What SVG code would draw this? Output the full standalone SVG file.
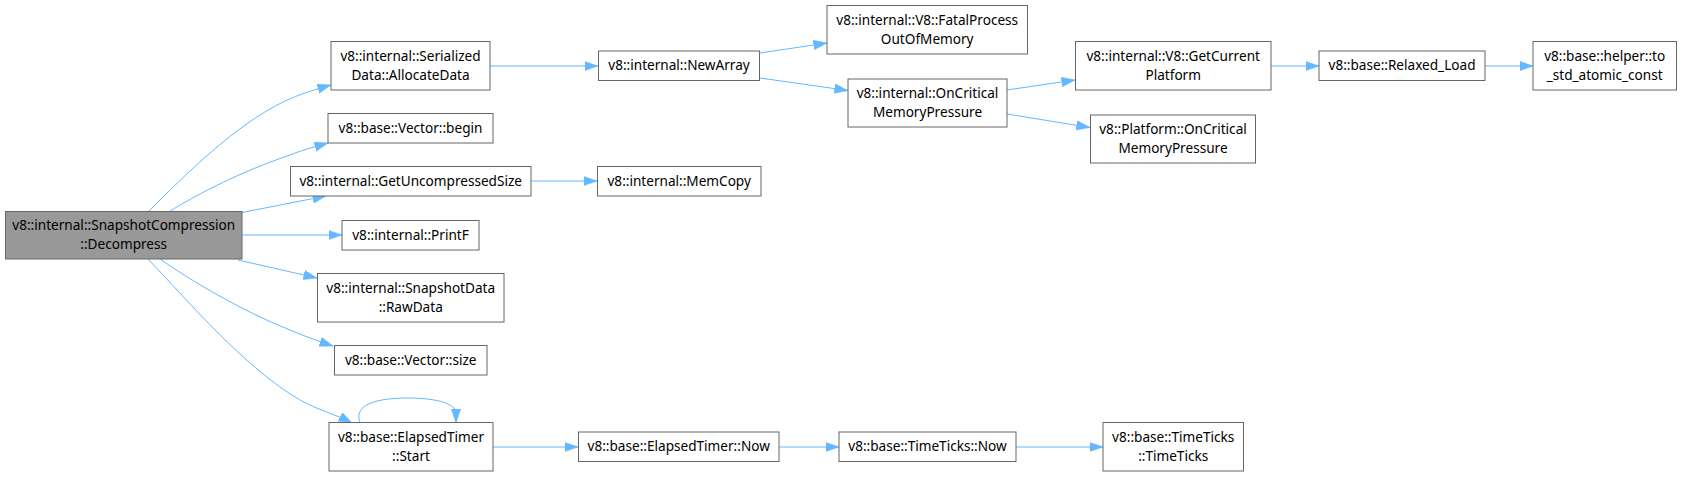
<svg xmlns="http://www.w3.org/2000/svg" width="1682" height="477" viewBox="0 0 1682 477">
<defs>
<style>
.n rect{fill:#ffffff;stroke:#666666;stroke-width:1}
.n.main rect{fill:#999999}
.n text{font-family:"Noto Sans","Open Sans","DejaVu Sans",sans-serif;font-size:13.6px;fill:#000000;text-anchor:middle}
.e path{fill:none;stroke:#63b8ff;stroke-width:1;marker-end:url(#arr)}
</style>
<marker id="arr" markerWidth="15" markerHeight="11" refX="13.5" refY="4.75" orient="auto" markerUnits="userSpaceOnUse">
<path d="M0,0 L13.5,4.75 L0,9.5 z" fill="#63b8ff" stroke="#63b8ff" stroke-width="0.5"/>
</marker>
</defs>
<rect width="1682" height="477" fill="#ffffff"/>
<g id="connectors" class="e">
<path d="M149,211 C185,175 235,125 285,101 C296,96 306,92 331,85"/>
<path d="M170,211 C200,193 240,172 290,155 C300,151 310,148 328,143"/>
<path d="M242,212.5 L326,196"/>
<path d="M242,235 L342,235"/>
<path d="M238,260 L317,278"/>
<path d="M160,259 C190,280 240,310 290,330 C302,335 315,340 333,346"/>
<path d="M148,259 C190,303 245,368 300,400 C318,410 335,414 352,423"/>
<path d="M360,422.5 C353,404 378,398 408,398 C432,398 452,402 456,411 L456,422.5"/>
<path d="M490,66 L598,66"/>
<path d="M760,53 L827,43"/>
<path d="M760,78 L848,90.5"/>
<path d="M1007,90 L1075,80"/>
<path d="M1007,114 L1090,127.5"/>
<path d="M1271,66 L1319,66"/>
<path d="M1485,66 L1533,66"/>
<path d="M531,181 L597,181"/>
<path d="M493,447 L578,447"/>
<path d="M779,447 L839,447"/>
<path d="M1016,447 L1103,447"/>
</g>
<g id="n_main" class="n main"><rect x="5.5" y="211.5" width="236.5" height="47.5"/><text x="123.7" y="230">v8::internal::SnapshotCompression</text><text x="123.7" y="249">::Decompress</text></g>
<g id="n_serialized" class="n"><rect x="331" y="41.5" width="159" height="48.5"/><text x="410.5" y="60.5">v8::internal::Serialized</text><text x="410.5" y="79.5">Data::AllocateData</text></g>
<g id="n_begin" class="n"><rect x="328" y="113.5" width="165" height="29.5"/><text x="410.5" y="132.5">v8::base::Vector::begin</text></g>
<g id="n_getuncomp" class="n"><rect x="290.5" y="166.5" width="240.5" height="29.5"/><text x="410.7" y="185.5">v8::internal::GetUncompressedSize</text></g>
<g id="n_printf" class="n"><rect x="342" y="220.5" width="137" height="29.5"/><text x="410.5" y="239.5">v8::internal::PrintF</text></g>
<g id="n_rawdata" class="n"><rect x="317.5" y="273.5" width="186.5" height="48.5"/><text x="410.7" y="292.5">v8::internal::SnapshotData</text><text x="410.7" y="311.5">::RawData</text></g>
<g id="n_vsize" class="n"><rect x="334.5" y="345.5" width="152.5" height="29.5"/><text x="410.7" y="364.5">v8::base::Vector::size</text></g>
<g id="n_start" class="n"><rect x="329" y="422.5" width="164" height="48.5"/><text x="411" y="441.5">v8::base::ElapsedTimer</text><text x="411" y="460.5">::Start</text></g>
<g id="n_newarray" class="n"><rect x="598.5" y="51" width="161" height="29.5"/><text x="679" y="70">v8::internal::NewArray</text></g>
<g id="n_memcopy" class="n"><rect x="597.5" y="166.5" width="163.5" height="29.5"/><text x="679.2" y="185.5">v8::internal::MemCopy</text></g>
<g id="n_etnow" class="n"><rect x="578.5" y="432" width="200.5" height="29.5"/><text x="678.7" y="451">v8::base::ElapsedTimer::Now</text></g>
<g id="n_fatal" class="n"><rect x="827" y="5.5" width="200.5" height="48.5"/><text x="927.2" y="24.5">v8::internal::V8::FatalProcess</text><text x="927.2" y="43.5">OutOfMemory</text></g>
<g id="n_oncrit" class="n"><rect x="848" y="79" width="159" height="48"/><text x="927.5" y="97.5">v8::internal::OnCritical</text><text x="927.5" y="116.5">MemoryPressure</text></g>
<g id="n_ttnow" class="n"><rect x="839" y="432" width="177" height="29.5"/><text x="927.5" y="451">v8::base::TimeTicks::Now</text></g>
<g id="n_getplat" class="n"><rect x="1075.5" y="41.5" width="195.5" height="48.5"/><text x="1173.2" y="60.5">v8::internal::V8::GetCurrent</text><text x="1173.2" y="79.5">Platform</text></g>
<g id="n_platoncrit" class="n"><rect x="1090.5" y="115" width="165" height="48"/><text x="1173" y="133.5">v8::Platform::OnCritical</text><text x="1173" y="152.5">MemoryPressure</text></g>
<g id="n_tt" class="n"><rect x="1103" y="422.5" width="140.5" height="48.5"/><text x="1173.2" y="441.5">v8::base::TimeTicks</text><text x="1173.2" y="460.5">::TimeTicks</text></g>
<g id="n_relaxed" class="n"><rect x="1319" y="51" width="166" height="29.5"/><text x="1402" y="70">v8::base::Relaxed_Load</text></g>
<g id="n_helper" class="n"><rect x="1533" y="41.5" width="143.5" height="48.5"/><text x="1604.7" y="60.5">v8::base::helper::to</text><text x="1604.7" y="79.5">_std_atomic_const</text></g>
</svg>
